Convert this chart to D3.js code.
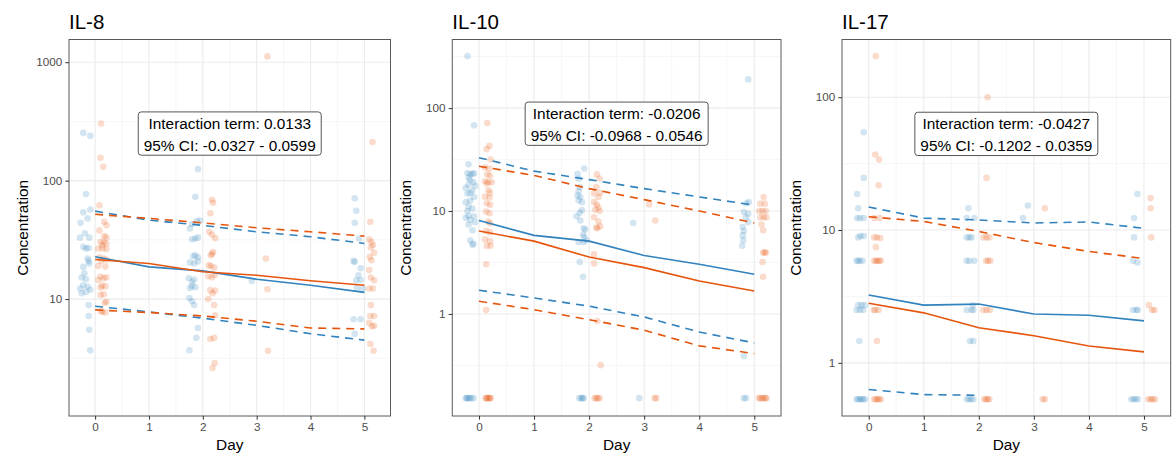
<!DOCTYPE html>
<html><head><meta charset="utf-8">
<script src="https://cdn.jsdelivr.net/npm/d3@7"></script>
<style>
body{margin:0;background:#fff;}
svg text{font-family:"Liberation Sans",Arial,Helvetica,sans-serif;}
</style>
</head><body>
<svg id="chart" width="1172" height="454"></svg>
<script>
// ---------------- data ----------------
const titles = ["IL-8", "IL-10", "IL-17"];
const days = [0, 1, 2, 3, 4, 5];
const xTicks = [0, 1, 2, 3, 4, 5];
const il8Ticks = [10, 100, 1000];
const il10Ticks = [1, 10, 100];
const il17Ticks = [1, 10, 100];
const termLabels = ["Interaction term: 0.0133", "Interaction term: -0.0206", "Interaction term: -0.0427"];
const ciLabels = ["95% CI: -0.0327 - 0.0599", "95% CI: -0.0968 - 0.0546", "95% CI: -0.1202 - 0.0359"];
const labelX = [2.5, 2.5, 2.5];
const labelY = [250, 70.6, 53];

// fitted lines (per day 0..5)
const il8BlueFit = [22.8, 18.7, 17.3, 14.7, 13.1, 11.4];
const il8OrangeFit = [21.6, 20, 17, 15.9, 14.3, 13.1];
const il8BlueHi = [55.3, 46.4, 41.9, 37, 33.6, 29.5];
const il8OrangeHi = [52, 48, 44, 40, 37, 34];
const il8BlueLo = [8.7, 7.8, 6.9, 6.0, 5.1, 4.5];
const il8OrangeLo = [8.1, 7.7, 7.2, 6.5, 5.7, 5.6];

const il10BlueFit = [8.1, 5.8, 5.1, 3.7, 3.04, 2.43];
const il10OrangeFit = [6.4, 5.1, 3.57, 2.82, 2.09, 1.67];
const il10BlueHi = [33, 24.4, 20.2, 16.5, 13.7, 11.4];
const il10OrangeHi = [27.2, 22.2, 16.5, 12.9, 10, 7.65];
const il10BlueLo = [1.70, 1.43, 1.19, 0.935, 0.668, 0.523];
const il10OrangeLo = [1.33, 1.10, 0.88, 0.695, 0.49, 0.412];

const il17BlueFit = [3.24, 2.72, 2.77, 2.33, 2.28, 2.07];
const il17OrangeFit = [2.81, 2.38, 1.84, 1.6, 1.34, 1.21];
const il17BlueHi = [14.9, 12.3, 11.9, 11.3, 11.5, 10.3];
const il17OrangeHi = [12.6, 11.6, 9.75, 8.05, 6.9, 6.1];
const il17BlueLo = [0.63, 0.577, 0.57, null, null, null];
const il17OrangeLo = [null, null, null, null, null, null];

// observations [jittered day, concentration]
const il8Blue = [
 [-0.22,253],[-0.09,239],[-0.17,77],[-0.22,54],[-0.09,57],[-0.27,44],[-0.14,48],[-0.19,36],[-0.11,33],[-0.28,33],
 [-0.22,27.6],[-0.17,26.8],[-0.12,27],[-0.14,22],[-0.12,21],[-0.11,20],[-0.22,18.7],[-0.2,16.5],[-0.25,15.2],[-0.17,14.7],
 [-0.22,13.1],[-0.14,12.7],[-0.28,12.3],[-0.17,11.5],[-0.09,12],[-0.25,11.2],[-0.12,8.9],[-0.12,7.2],[-0.11,5.5],[-0.09,3.7],
 [1.91,125],[1.86,73],[1.89,45.5],[1.8,43],[1.95,46],[1.76,39.5],[1.8,32],[1.86,32.5],[1.91,33],[1.82,23],[1.86,23.5],
 [1.91,22.5],[1.76,20.4],[1.84,20],[1.91,20.8],[1.74,15],[1.84,14.6],[1.8,14],[1.8,12.9],[1.86,12.6],[1.76,12.4],
 [1.75,10.2],[1.8,9.6],[1.84,8.9],[1.91,5.7],[1.88,4.7],[1.75,3.7],
 [2.91,14.2],
 [4.82,71],[4.85,55.6],[4.82,44],[4.9,32.5],[4.8,21],[4.82,20.6],[4.93,18.2],[4.89,15.9],[4.85,14.4],[4.93,14.5],
 [4.86,12.4],[4.97,12.2],[4.8,6.75],[4.93,6.75],[4.82,5.1]
];
const il8Orange = [
 [0.11,304],[0.1,156],[0.15,131],[0.08,62],[0.17,45],[0.21,42],[0.08,38],[0.17,34],[0.21,33],[0.1,30.5],[0.16,30],
 [0.21,29.5],[0.13,28.5],[0.06,26.7],[0.14,26.7],[0.21,26.5],[0.08,22.5],[0.16,22],[0.11,21],[0.21,21.5],[0.06,19],
 [0.19,18.8],[0.1,15.5],[0.16,15],[0.21,15.3],[0.06,14.5],[0.13,13],[0.19,12.8],[0.1,12.5],[0.16,11],[0.1,10.8],
 [0.18,9.3],[0.21,9.5],[0.13,7.8],[0.19,7.7],[0.11,7.9],
 [2.17,69],[2.19,65],[2.14,53],[2.12,37],[2.17,35],[2.23,32.7],[2.19,25],[2.17,24],[2.15,23.4],[2.15,19],[2.21,18.5],
 [2.11,19.3],[2.1,15.6],[2.17,15.2],[2.22,16],[2.14,11.9],[2.23,11.8],[2.18,11.2],[2.1,10],[2.21,8.9],[2.23,7.3],
 [2.14,4.6],[2.21,4.7],[2.22,2.88],[2.18,2.62],
 [3.2,1120],[3.17,22],[3.2,12.1],[3.21,3.66],
 [5.15,212],[5.11,45],[5.09,32],[5.13,30.5],[5.16,28.6],[5.12,27.3],[5.18,24.6],[5.1,22.7],[5.13,21.3],[5.09,17.6],
 [5.12,15.2],[5.18,14.4],[5.09,12.3],[5.16,12.3],[5.12,8.9],[5.11,7.2],[5.18,7.2],[5.09,6.3],[5.18,5.95],[5.14,5.9],
 [5.11,4.17],[5.17,3.66]
];
const il10Blue = [
 [-0.21,320],[-0.09,68],[-0.19,28.4],[-0.21,23.4],[-0.12,23],[-0.16,22.8],[-0.09,23.2],[-0.19,21],[-0.16,20],[-0.1,19],
 [-0.19,18],[-0.24,16.8],[-0.07,17.5],[-0.12,15.8],[-0.21,14.8],[-0.16,15],[-0.09,13.7],[-0.24,12.2],[-0.16,12.6],
 [-0.19,11],[-0.21,10],[-0.12,10.6],[-0.19,9],[-0.09,8.9],[-0.24,8.6],[-0.16,8.2],[-0.07,7.8],[-0.19,7.4],[-0.12,6.5],
 [-0.16,5.2],[-0.12,4.7],[-0.1,4.8],
 [-0.24,0.152],[-0.2,0.152],[-0.17,0.152],[-0.14,0.152],[-0.1,0.152],[-0.22,0.152],
 [1.91,25.9],[1.79,23],[1.81,20.6],[1.83,17.1],[1.81,15.6],[1.79,14.2],[1.84,13.7],[1.81,12.7],[1.87,12.2],[1.87,10.2],
 [1.83,9.6],[1.77,8.9],[1.84,8.1],[1.9,6.8],[1.93,6.6],[1.89,5.9],[1.91,5.6],[1.81,5.0],[1.9,5.0],[1.95,5.2],
 [1.83,3.2],[1.89,2.3],
 [1.82,0.152],[1.86,0.152],[1.9,0.152],[1.88,0.152],
 [2.8,7.65],[2.91,0.152],
 [4.89,190],[4.9,12.2],[4.86,11.9],[4.81,9.8],[4.89,9.4],[4.85,8.7],[4.89,7.8],[4.79,7.0],[4.81,6.4],[4.79,5.8],
 [4.8,5.2],[4.78,4.6],[4.81,0.39],[4.81,0.152],[4.85,0.152]
];
const il10Orange = [
 [0.15,71.5],[0.19,43],[0.14,40],[0.21,31.7],[0.11,26.5],[0.19,25.8],[0.15,22.7],[0.2,22],[0.11,19.5],[0.17,19],
 [0.23,19],[0.14,18.5],[0.17,15.9],[0.2,15],[0.11,13.8],[0.19,13.5],[0.14,11.9],[0.2,11.5],[0.13,9.9],[0.19,9.5],
 [0.17,7.9],[0.2,7.6],[0.13,6.4],[0.2,6.2],[0.11,5.3],[0.2,5.1],[0.14,4.6],[0.21,4.6],[0.13,3.04],[0.13,1.09],
 [0.12,0.152],[0.15,0.152],[0.18,0.152],[0.21,0.152],[0.14,0.152],[0.2,0.152],
 [2.14,22.7],[2.19,20.7],[2.13,17.1],[2.2,15],[2.09,14.8],[2.17,13.7],[2.09,12.2],[2.14,11.5],[2.17,10.8],[2.11,10.3],
 [2.19,10],[2.09,8.7],[2.17,7.9],[2.2,7.1],[2.13,6.9],[2.15,6.8],[2.09,3.8],[2.09,3.1],[2.15,0.855],[2.21,0.318],
 [2.1,0.152],[2.13,0.152],[2.16,0.152],[2.19,0.152],
 [3.09,11.6],[3.2,8.1],[3.19,0.152],[3.22,0.152],
 [5.17,13.7],[5.11,11.8],[5.19,11.8],[5.09,10],[5.15,10],[5.21,10],[5.11,8.7],[5.17,8.7],[5.22,8.7],[5.13,7.4],
 [5.16,6.5],[5.16,3.95],[5.19,3.95],[5.21,3.95],[5.15,3.2],[5.16,2.3],
 [5.08,0.152],[5.11,0.152],[5.14,0.152],[5.17,0.152],[5.2,0.152],[5.22,0.152]
];
const il17Blue = [
 [-0.21,18.7],[-0.19,14.6],[-0.21,12.3],[-0.16,12.3],[-0.09,12.3],[-0.09,24.7],[-0.09,54.5],[-0.19,8.8],[-0.15,9.0],
 [-0.09,9.0],[-0.22,5.86],[-0.16,5.86],[-0.11,5.86],[-0.19,5.86],[-0.19,2.72],[-0.13,2.72],[-0.07,2.72],[-0.22,2.5],
 [-0.16,2.5],[-0.1,2.5],[-0.17,1.46],
 [-0.22,0.532],[-0.19,0.532],[-0.16,0.532],[-0.13,0.532],[-0.1,0.532],[-0.07,0.532],
 [1.81,14.6],[1.78,12.3],[1.92,12.3],[1.78,8.8],[1.83,8.8],[1.87,8.8],[1.78,5.86],[1.83,5.86],[1.92,5.86],[1.78,2.5],
 [1.87,2.5],[1.9,2.5],[1.89,2.72],[1.84,1.46],[1.9,1.46],
 [1.78,0.532],[1.82,0.532],[1.86,0.532],[1.9,0.532],
 [2.89,15.3],[2.8,12.3],
 [4.88,18.7],[4.82,12.3],[4.82,8.8],[4.8,5.86],[4.88,5.7],[4.8,2.5],[4.86,2.5],[4.89,2.5],
 [4.77,0.532],[4.81,0.532],[4.85,0.532],[4.89,0.532]
];
const il17Orange = [
 [0.13,204],[0.12,37],[0.19,33.9],[0.18,21.7],[0.1,12.3],[0.2,12.3],[0.1,8.8],[0.15,8.8],[0.21,8.7],[0.13,7.43],
 [0.1,5.86],[0.13,5.86],[0.16,5.86],[0.19,5.86],[0.22,5.86],[0.12,2.5],[0.18,2.5],[0.09,2.5],[0.15,1.46],
 [0.1,0.532],[0.13,0.532],[0.16,0.532],[0.19,0.532],[0.22,0.532],
 [2.16,100],[2.14,24.7],[2.08,8.8],[2.14,8.8],[2.19,8.8],[2.13,5.86],[2.17,5.86],[2.21,5.86],[2.08,2.5],[2.14,2.5],
 [2.2,2.5],
 [2.1,0.532],[2.13,0.532],[2.16,0.532],[2.19,0.532],
 [3.2,14.6],[3.16,0.532],[3.2,0.532],
 [5.12,17.4],[5.12,14.6],[5.13,8.8],[5.09,2.72],[5.15,2.5],[5.19,2.5],
 [5.08,0.532],[5.12,0.532],[5.16,0.532],[5.2,0.532]
];

// ---------------- styling / layout ----------------
const BLUE = "#3182bd", ORANGE = "#e6550d";
const FONT = '"Liberation Sans", Arial, Helvetica, sans-serif';
const TOP = 39.5, BOTTOM = 416;
const xDomain = [-0.485, 5.485];

const panels = [
  { title: titles[0], left: 69, right: 390.5, yDomain: [1.03, 1555], ticks: il8Ticks,
    blue: il8Blue, orange: il8Orange,
    lines: [[il8BlueFit, il8OrangeFit], [il8BlueHi, il8OrangeHi], [il8BlueLo, il8OrangeLo]] },
  { title: titles[1], left: 452.3, right: 781, yDomain: [0.102, 464], ticks: il10Ticks,
    blue: il10Blue, orange: il10Orange,
    lines: [[il10BlueFit, il10OrangeFit], [il10BlueHi, il10OrangeHi], [il10BlueLo, il10OrangeLo]] },
  { title: titles[2], left: 842, right: 1170.7, yDomain: [0.398, 272], ticks: il17Ticks,
    blue: il17Blue, orange: il17Orange,
    lines: [[il17BlueFit, il17OrangeFit], [il17BlueHi, il17OrangeHi], [il17BlueLo, il17OrangeLo]] }
];

const svg = d3.select("#chart");
svg.append("rect").attr("width", 1172).attr("height", 454).attr("fill", "#fff");

panels.forEach((p, i) => {
  const x = d3.scaleLinear().domain(xDomain).range([p.left, p.right]);
  const y = d3.scaleLog().domain(p.yDomain).range([BOTTOM, TOP]);
  const g = svg.append("g");
  const clipId = "clip" + i;
  svg.append("clipPath").attr("id", clipId).append("rect")
    .attr("x", p.left).attr("y", TOP).attr("width", p.right - p.left).attr("height", BOTTOM - TOP);

  // grid
  const grid = g.append("g");
  const minorX = d3.range(-0.5, 6, 1).filter(v => v > xDomain[0] && v < xDomain[1]);
  const minorY = [];
  p.ticks.forEach(t => { minorY.push(t / Math.sqrt(10), t * Math.sqrt(10)); });
  const minorYu = Array.from(new Set(minorY.map(v => +v.toPrecision(6))))
    .filter(v => v > p.yDomain[0] && v < p.yDomain[1]);
  grid.selectAll(".mx").data(minorX).join("line")
    .attr("x1", d => x(d)).attr("x2", d => x(d)).attr("y1", TOP).attr("y2", BOTTOM)
    .attr("stroke", "#f2f2f2").attr("stroke-width", 0.7);
  grid.selectAll(".my").data(minorYu).join("line")
    .attr("y1", d => y(d)).attr("y2", d => y(d)).attr("x1", p.left).attr("x2", p.right)
    .attr("stroke", "#f2f2f2").attr("stroke-width", 0.7);
  grid.selectAll(".Mx").data(xTicks).join("line")
    .attr("x1", d => x(d)).attr("x2", d => x(d)).attr("y1", TOP).attr("y2", BOTTOM)
    .attr("stroke", "#ebebeb").attr("stroke-width", 1.1);
  grid.selectAll(".My").data(p.ticks).join("line")
    .attr("y1", d => y(d)).attr("y2", d => y(d)).attr("x1", p.left).attr("x2", p.right)
    .attr("stroke", "#ebebeb").attr("stroke-width", 1.1);

  // points
  const pts = g.append("g").attr("clip-path", `url(#${clipId})`);
  [[p.blue, BLUE], [p.orange, ORANGE]].forEach(([data, col]) => {
    pts.append("g").selectAll("circle").data(data).join("circle")
      .attr("cx", d => x(d[0])).attr("cy", d => y(d[1])).attr("r", 3.3)
      .attr("fill", col).attr("fill-opacity", 0.21);
  });

  // lines
  const lg = g.append("g").attr("clip-path", `url(#${clipId})`);
  const line = d3.line()
    .defined(d => d[1] != null)
    .x(d => x(d[0])).y(d => y(d[1]));
  p.lines.forEach((pair, k) => {
    pair.forEach((vals, j) => {
      const data = days.map((dd, m) => [dd, vals[m]]);
      if (data.filter(d => d[1] != null).length < 2) return;
      lg.append("path").datum(data).attr("d", line)
        .attr("fill", "none").attr("stroke", j === 0 ? BLUE : ORANGE)
        .attr("stroke-width", 1.6)
        .attr("stroke-dasharray", k === 0 ? null : "8,6");
    });
  });

  // label box
  const lx = x(labelX[i]), ly = y(labelY[i]);
  const lab = g.append("g");
  const box = lab.append("rect");
  const t1 = lab.append("text").attr("x", lx).attr("y", ly - 5).attr("text-anchor", "middle")
    .style("font-family", FONT).style("font-size", "15.4px").attr("fill", "#000").text(termLabels[i]);
  const t2 = lab.append("text").attr("x", lx).attr("y", ly + 17.4).attr("text-anchor", "middle")
    .style("font-family", FONT).style("font-size", "15.4px").attr("fill", "#000").text(ciLabels[i]);
  const w = Math.max(t1.node().getComputedTextLength(), t2.node().getComputedTextLength()) + 11;
  box.attr("x", lx - w / 2).attr("y", ly - 21.6).attr("width", w).attr("height", 43.3)
    .attr("rx", 3).attr("ry", 3).attr("fill", "#fff").attr("stroke", "#555").attr("stroke-width", 1);

  // border
  g.append("rect").attr("x", p.left).attr("y", TOP).attr("width", p.right - p.left).attr("height", BOTTOM - TOP)
    .attr("fill", "none").attr("stroke", "#5a5a5a").attr("stroke-width", 1);

  // axes
  const ax = g.append("g").attr("transform", `translate(0,${BOTTOM})`)
    .call(d3.axisBottom(x).tickValues(xTicks).tickFormat(d3.format("d")).tickSize(3.7).tickPadding(3));
  const ay = g.append("g").attr("transform", `translate(${p.left},0)`)
    .call(d3.axisLeft(y).tickValues(p.ticks).tickFormat(d3.format("d")).tickSize(3.7).tickPadding(3));
  [ax, ay].forEach(a => {
    a.select(".domain").remove();
    a.selectAll(".tick line").attr("stroke", "#333");
    a.selectAll(".tick text").attr("fill", "#4d4d4d").style("font-family", FONT).style("font-size", "11.7px");
  });

  // titles
  g.append("text").attr("x", p.left).attr("y", 28.5).style("font-family", FONT).style("font-size", "20.5px")
    .attr("fill", "#000").text(p.title);
  g.append("text").attr("x", (p.left + p.right) / 2).attr("y", 450).attr("text-anchor", "middle")
    .style("font-family", FONT).style("font-size", "15.4px").attr("fill", "#000").text("Day");
  g.append("text").attr("transform", `translate(${p.left - 41.5},${(TOP + BOTTOM) / 2}) rotate(-90)`)
    .attr("text-anchor", "middle").style("font-family", FONT).style("font-size", "15.4px")
    .attr("fill", "#000").text("Concentration");
});
</script>
</body></html>
